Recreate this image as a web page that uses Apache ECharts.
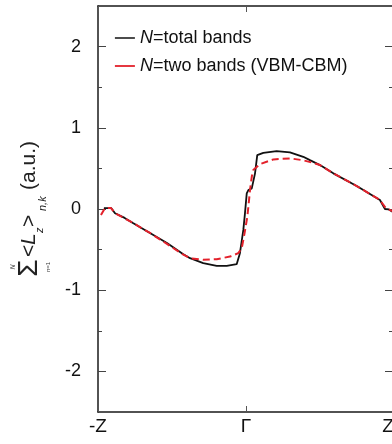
<!DOCTYPE html>
<html><head><meta charset="utf-8">
<script src="https://cdn.jsdelivr.net/npm/echarts@6/dist/echarts.min.js"></script>
<style>html,body{margin:0;padding:0;background:#fff}#c{width:392px;height:444px}</style>
</head><body><div id="c"></div>
<script>
// k-path positions: -Z = -1, Γ = 0, Z = 1
const xTickLabels = {'-1': '-Z', '0': 'Γ', '1': '{zr|Z}'};
const yMajorTicks = [-2, -1, 0, 1, 2];
const yMinorTicks = [-1.5, -0.5, 0.5, 1.5];

const totalX = [-0.96, -0.91, -0.885, -0.82, -0.764, -0.649, -0.534, -0.426, -0.378, -0.289, -0.198, -0.13, -0.063, -0.052, -0.041, -0.018, -0.007, 0.005, 0.016, 0.039, 0.061, 0.076, 0.117, 0.207, 0.297, 0.387, 0.432, 0.5, 0.59, 0.748, 0.905, 0.939, 0.965, 0.99];
const totalY = [0.01, 0.01, -0.053, -0.11, -0.172, -0.295, -0.418, -0.553, -0.606, -0.667, -0.70, -0.70, -0.679, -0.667, -0.544, -0.258, -0.053, 0.193, 0.233, 0.254, 0.439, 0.663, 0.692, 0.713, 0.697, 0.643, 0.602, 0.541, 0.439, 0.283, 0.111, 0.0, -0.005, -0.035];

const twoX = [-0.98, -0.953, -0.912, -0.885, -0.764, -0.649, -0.534, -0.426, -0.378, -0.291, -0.198, -0.108, -0.052, -0.029, -0.018, -0.01, 0.009, 0.016, 0.027, 0.039, 0.049, 0.095, 0.185, 0.3, 0.387, 0.45, 0.5, 0.59, 0.748, 0.905, 0.945, 0.99];
const twoY = [-0.074, 0.012, 0.012, -0.05, -0.172, -0.295, -0.43, -0.56, -0.606, -0.626, -0.618, -0.586, -0.544, -0.483, -0.38, -0.3, -0.095, 0.028, 0.233, 0.397, 0.479, 0.553, 0.611, 0.623, 0.60, 0.57, 0.541, 0.439, 0.283, 0.111, 0.01, -0.025];

const seriesNames = ['tot', 'two'];
const legendTexts = {'tot': '{i|N}=total bands', 'two': '{i|N}=two bands (VBM-CBM)'};

const FONT = 'Liberation Sans, Arial, sans-serif';
const AX = '#1a1a1a';
const RED = '#e3212b';

function zip(xs, ys) { return xs.map((x, i) => [x, ys[i]]); }

const chart = echarts.init(document.getElementById('c'), null, {renderer: 'canvas'});

const yBase = {type: 'value', min: -2.5, max: 2.5, interval: 0.5, splitLine: {show: false}};

chart.setOption({
  animation: false,
  backgroundColor: '#fff',
  grid: {left: 98, top: 6, width: 296, height: 406, containLabel: false, outerBoundsMode: 'none'},
  legend: {
    orient: 'vertical', left: 114, top: 29, padding: 0,
    itemWidth: 20, itemHeight: 14, itemGap: 10,
    data: [
      {name: 'tot', itemStyle: {opacity: 0}, lineStyle: {color: '#111', width: 1.5}},
      {name: 'two', itemStyle: {opacity: 0}, lineStyle: {type: 'solid', color: RED, width: 1.8}}
    ],
    formatter: n => legendTexts[n],
    textStyle: {fontSize: 18, color: '#111', fontFamily: FONT,
      rich: {i: {fontStyle: 'italic', fontSize: 18, color: '#111', fontFamily: FONT}}}
  },
  xAxis: [
    {type: 'value', position: 'bottom', min: -1, max: 1, interval: 1,
      axisLine: {show: true, onZero: false, lineStyle: {color: AX, width: 1.5}},
      axisTick: {show: true, inside: true, length: 6, lineStyle: {color: '#555', width: 1}},
      axisLabel: {show: true, margin: 5, fontSize: 19, color: '#111', fontFamily: FONT,
        formatter: v => xTickLabels[String(v)] || '',
        rich: {zr: {fontSize: 19, color: '#111', fontFamily: FONT, padding: [0, 12, 0, 0]}}},
      splitLine: {show: false}},
    {type: 'value', position: 'top', min: -1, max: 1, interval: 1,
      axisLine: {show: true, onZero: false, lineStyle: {color: AX, width: 1.5}},
      axisTick: {show: true, inside: true, length: 6, lineStyle: {color: '#555', width: 1}},
      axisLabel: {show: false}, splitLine: {show: false}}
  ],
  yAxis: [
    Object.assign({}, yBase, {position: 'left',
      axisLine: {show: true, onZero: false, lineStyle: {color: AX, width: 1.5}},
      axisTick: {show: true, inside: true, length: 8, customValues: yMajorTicks, lineStyle: {color: '#444', width: 1}},
      axisLabel: {show: true, customValues: yMajorTicks, margin: 17, fontSize: 18, color: '#111', fontFamily: FONT,
        formatter: v => String(v)}}),
    Object.assign({}, yBase, {position: 'left',
      axisLine: {show: false, onZero: false},
      axisTick: {show: true, inside: true, length: 4, customValues: yMinorTicks, lineStyle: {color: '#444', width: 1}},
      axisLabel: {show: false}}),
    Object.assign({}, yBase, {position: 'right',
      axisLine: {show: true, onZero: false, lineStyle: {color: AX, width: 1.5}},
      axisTick: {show: true, inside: true, length: 9, customValues: yMajorTicks, lineStyle: {color: '#444', width: 1}},
      axisLabel: {show: false}}),
    Object.assign({}, yBase, {position: 'right',
      axisLine: {show: false, onZero: false},
      axisTick: {show: true, inside: true, length: 5, customValues: yMinorTicks, lineStyle: {color: '#444', width: 1}},
      axisLabel: {show: false}})
  ],
  series: [
    {name: seriesNames[0], type: 'line', xAxisIndex: 0, yAxisIndex: 0, symbol: 'none', showSymbol: false,
      data: zip(totalX, totalY), lineStyle: {color: '#111', width: 1.8}, itemStyle: {color: '#111'}, z: 2},
    {name: seriesNames[1], type: 'line', xAxisIndex: 0, yAxisIndex: 0, symbol: 'none', showSymbol: false,
      data: zip(twoX, twoY), lineStyle: {color: RED, width: 2, type: [7, 4]}, itemStyle: {color: RED}, z: 3}
  ],
  graphic: [{
    type: 'group', x: 29.5, y: 278, rotation: Math.PI / 2,
    children: [
      {type: 'text', x: 10, y: 0, style: {text: 'Σ', font: '28px ' + FONT, fill: '#222', align: 'center', verticalAlign: 'middle'}},
      {type: 'text', x: 11, y: -16, style: {text: 'N', font: 'italic 7px ' + FONT, fill: '#333', align: 'center', verticalAlign: 'middle'}},
      {type: 'text', x: 11, y: 19, style: {text: 'n=1', font: '6px ' + FONT, fill: '#333', align: 'center', verticalAlign: 'middle'}},
      {type: 'text', x: 21, y: 0, style: {text: '<', font: '21px ' + FONT, fill: '#222', align: 'left', verticalAlign: 'middle'}},
      {type: 'text', x: 33, y: 0, style: {text: 'L', font: 'italic 21px ' + FONT, fill: '#222', align: 'left', verticalAlign: 'middle'}},
      {type: 'text', x: 45, y: 10.5, style: {text: 'z', font: 'italic 11px ' + FONT, fill: '#222', align: 'left', verticalAlign: 'middle'}},
      {type: 'text', x: 51, y: 0, style: {text: '>', font: '21px ' + FONT, fill: '#222', align: 'left', verticalAlign: 'middle'}},
      {type: 'text', x: 67, y: 13, style: {text: 'n,k', font: 'italic 11px ' + FONT, fill: '#222', align: 'left', verticalAlign: 'middle'}},
      {type: 'text', x: 88, y: 0, style: {text: '(a.u.)', font: '21px ' + FONT, fill: '#222', align: 'left', verticalAlign: 'middle'}}
    ]
  }]
});
</script>
</body></html>
